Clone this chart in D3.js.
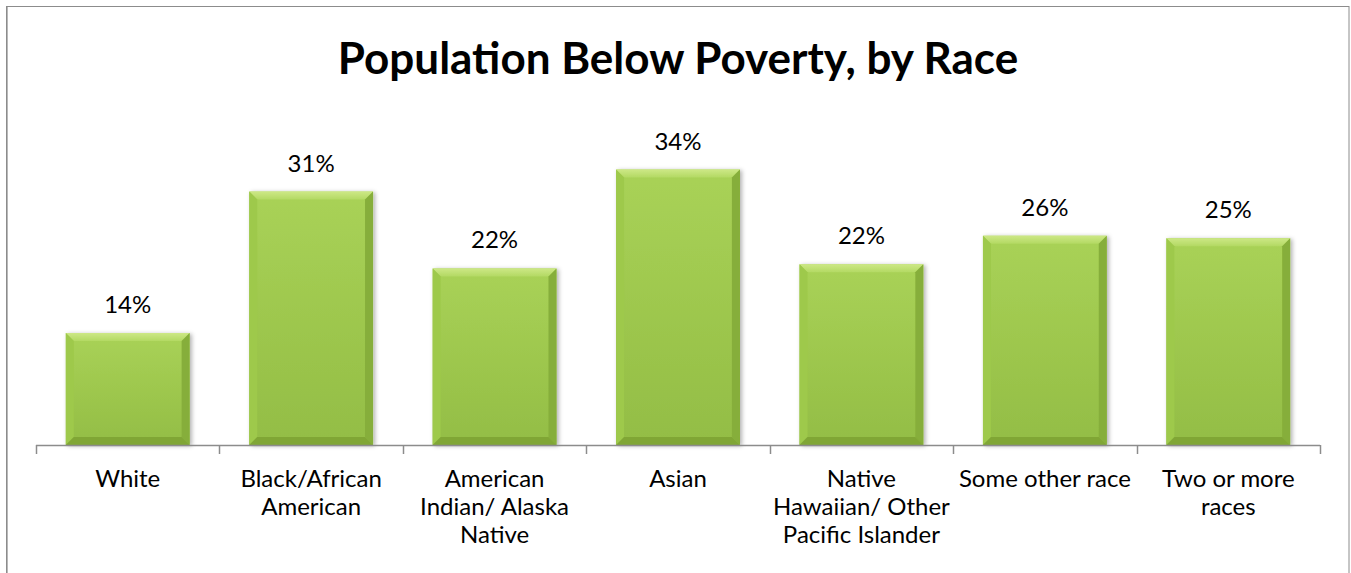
<!DOCTYPE html>
<html>
<head>
<meta charset="utf-8">
<script src="https://cdn.jsdelivr.net/npm/d3@7"></script>
<style>
  html, body { margin: 0; padding: 0; background: #fff; }
  svg { display: block; }
  text { font-family: Lato, "Open Sans", "Liberation Sans", sans-serif; fill: #000; }
</style>
</head>
<body>
<svg id="chart" width="1351" height="573"></svg>
<script>
// Share of each group living below the poverty line
const categories = [
  "White",
  "Black/African American",
  "American Indian/ Alaska Native",
  "Asian",
  "Native Hawaiian/ Other Pacific Islander",
  "Some other race",
  "Two or more races"
];
const povertyRate = [0.137, 0.310, 0.216, 0.337, 0.221, 0.256, 0.253];
// Axis labels as they wrap under each bar
const tickLabels = [
  ["White"],
  ["Black/African", "American"],
  ["American", "Indian/ Alaska", "Native"],
  ["Asian"],
  ["Native", "Hawaiian/ Other", "Pacific Islander"],
  ["Some other race"],
  ["Two or more", "races"]
];
const title = "Population Below Poverty, by Race";

const W = 1351, H = 573;
const plot = { left: 36, right: 1320, top: 118, bottom: 445 };
const gap = 0.325;

const svg = d3.select("#chart");
const defs = svg.append("defs");

// Face gradient and bevel shading for the bars
const face = defs.append("linearGradient").attr("id", "face")
  .attr("x1", 0).attr("y1", 0).attr("x2", 0).attr("y2", 1);
face.append("stop").attr("offset", "0%").attr("stop-color", "#a9d257");
face.append("stop").attr("offset", "100%").attr("stop-color", "#93bd45");

const topBevel = defs.append("linearGradient").attr("id", "topBevel")
  .attr("x1", 0).attr("y1", 0).attr("x2", 0).attr("y2", 1);
topBevel.append("stop").attr("offset", "0%").attr("stop-color", "#cde886");
topBevel.append("stop").attr("offset", "100%").attr("stop-color", "#b3d963");

const shadow = defs.append("filter").attr("id", "shadow")
  .attr("x", "-10%").attr("y", "-10%").attr("width", "130%").attr("height", "130%");
shadow.append("feDropShadow").attr("dx", 2).attr("dy", 1).attr("stdDeviation", 2)
  .attr("flood-color", "#000").attr("flood-opacity", 0.3);

// Outer chart frame
svg.append("rect")
  .attr("x", 6.5).attr("y", 6.5).attr("width", 1342.5).attr("height", 620)
  .attr("fill", "#fff").attr("stroke", "#8c8c8c").attr("stroke-width", 1);
svg.append("line").attr("x1", 7.5).attr("x2", 7.5).attr("y1", 7).attr("y2", H)
  .attr("stroke", "#b8b8b8").attr("stroke-width", 1);

// Title
svg.append("text")
  .attr("x", 678).attr("y", 74)
  .attr("text-anchor", "middle")
  .attr("font-size", 44).attr("font-weight", "bold")
  .text(title);

const x = d3.scaleBand()
  .domain(categories)
  .range([plot.left, plot.right])
  .paddingInner(gap)
  .paddingOuter(gap / 2);

const y = d3.scaleLinear().domain([0, 0.4]).range([plot.bottom, plot.top]);

const data = categories.map((c, i) => ({ cat: c, v: povertyRate[i], lines: tickLabels[i] }));

// Bars with bevelled edges
const bev = 8;
const bars = svg.append("g").selectAll("g.bar").data(data).join("g")
  .attr("class", "bar")
  .attr("filter", "url(#shadow)");

bars.append("rect")
  .attr("x", d => x(d.cat))
  .attr("y", d => y(d.v))
  .attr("width", x.bandwidth())
  .attr("height", d => y(0) - y(d.v))
  .attr("fill", "url(#face)");

function bevelPolys(d) {
  const x0 = x(d.cat), x1 = x0 + x.bandwidth();
  const y0 = y(d.v), y1 = y(0);
  return [
    { pts: [[x0, y0], [x1, y0], [x1 - bev, y0 + bev], [x0 + bev, y0 + bev]], fill: "url(#topBevel)" },
    { pts: [[x0, y0], [x0 + bev, y0 + bev], [x0 + bev, y1 - bev], [x0, y1]], fill: "#9ec94b" },
    { pts: [[x1, y0], [x1, y1], [x1 - bev, y1 - bev], [x1 - bev, y0 + bev]], fill: "#86ae3a" },
    { pts: [[x0, y1], [x0 + bev, y1 - bev], [x1 - bev, y1 - bev], [x1, y1]], fill: "#80a636" }
  ];
}
bars.selectAll("polygon").data(d => bevelPolys(d)).join("polygon")
  .attr("points", p => p.pts.map(q => q.join(",")).join(" "))
  .attr("fill", p => p.fill);

// Value labels
svg.append("g").selectAll("text").data(data).join("text")
  .attr("x", d => x(d.cat) + x.bandwidth() / 2)
  .attr("y", d => y(d.v) - 20)
  .attr("text-anchor", "middle")
  .attr("font-size", 24)
  .text(d => d3.format(".0%")(d.v));

// Category axis: baseline with ticks on the band boundaries
const step = x.step();
const edges = categories.map(c => x(c) - step * gap / 2).concat([plot.right]);
const axis = svg.append("g");
axis.append("line")
  .attr("x1", plot.left).attr("x2", plot.right)
  .attr("y1", plot.bottom + 0.5).attr("y2", plot.bottom + 0.5)
  .attr("stroke", "#8c8c8c").attr("stroke-width", 1.5);
axis.selectAll("line.tick").data(edges).join("line")
  .attr("class", "tick")
  .attr("x1", d => Math.round(d) + 0.5).attr("x2", d => Math.round(d) + 0.5)
  .attr("y1", plot.bottom).attr("y2", plot.bottom + 9)
  .attr("stroke", "#8c8c8c").attr("stroke-width", 1.5);

const lbl = axis.selectAll("text.cat").data(data).join("text")
  .attr("class", "cat")
  .attr("text-anchor", "middle")
  .attr("font-size", 24)
  .attr("x", d => x(d.cat) + x.bandwidth() / 2)
  .attr("y", 487);
lbl.selectAll("tspan").data(d => d.lines.map(s => ({ s, cx: x(d.cat) + x.bandwidth() / 2 }))).join("tspan")
  .attr("x", t => t.cx)
  .attr("dy", (t, i) => i === 0 ? 0 : 28)
  .text(t => t.s);
</script>
</body>
</html>
